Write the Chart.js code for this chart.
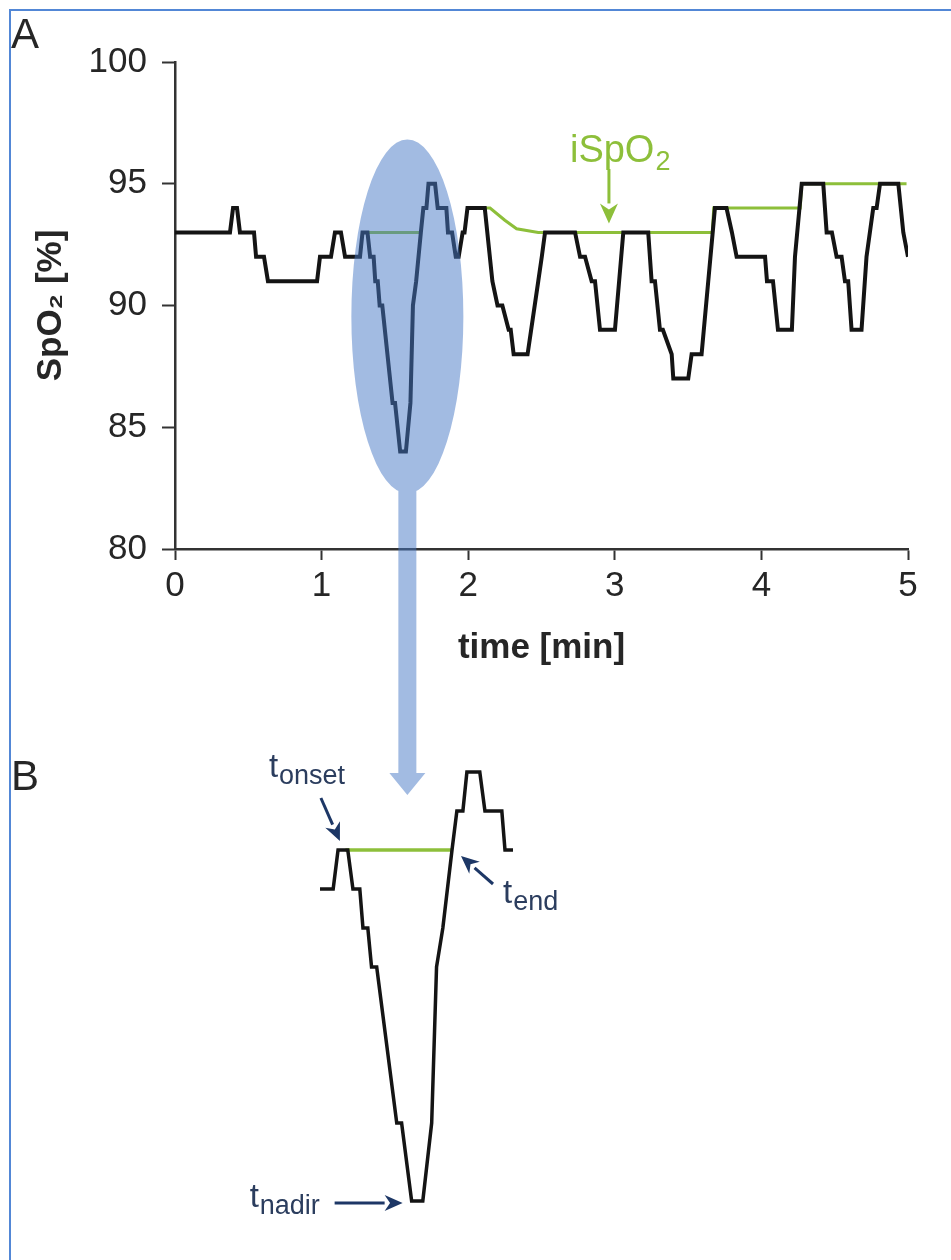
<!DOCTYPE html>
<html>
<head>
<meta charset="utf-8">
<script src="https://cdn.jsdelivr.net/npm/chart.js@4.4.1/dist/chart.umd.min.js"></script>
<style>
    html, body { margin: 0; padding: 0; background: #fff; }
    #wrap { position: relative; width: 951px; height: 1260px; }
    #wrap canvas { position: absolute; left: 0; top: 0; }
</style>
</head>
<body>
<div id="wrap">
    <canvas id="chartA" width="951" height="1260"></canvas>
    <canvas id="chartB" width="951" height="1260"></canvas>
</div>
<script>
// ------------------------------------------------------------------------
// Data
// ------------------------------------------------------------------------

// SpO2 trace, time in minutes
const timeMin = [
    0.000, 0.375, 0.396, 0.423, 0.443, 0.539, 0.553, 0.607, 0.634, 0.969,
    0.989, 1.064, 1.091, 1.132, 1.160, 1.262, 1.279, 1.313, 1.331, 1.355,
    1.366, 1.383, 1.396, 1.414, 1.484, 1.501, 1.536, 1.575, 1.606, 1.623,
    1.645, 1.677, 1.694, 1.715, 1.729, 1.774, 1.792, 1.851, 1.862, 1.890,
    1.915, 1.935, 1.962, 1.975, 1.995, 2.113, 2.165, 2.200, 2.233, 2.276,
    2.290, 2.310, 2.405, 2.478, 2.502, 2.524, 2.729, 2.763, 2.797, 2.842,
    2.865, 2.899, 3.001, 3.058, 3.228, 3.251, 3.274, 3.308, 3.328, 3.388,
    3.399, 3.501, 3.524, 3.592, 3.683, 3.762, 3.799, 3.831, 4.025, 4.038,
    4.079, 4.113, 4.208, 4.229, 4.275, 4.422, 4.445, 4.481, 4.513, 4.547,
    4.570, 4.592, 4.615, 4.683, 4.717, 4.763, 4.786, 4.809, 4.934, 4.968,
    5.000
];
const spo2 = [
    93, 93, 94, 94, 93, 93, 92, 92, 91, 91,
    92, 92, 93, 93, 92, 92, 93, 93, 92, 92,
    91, 91, 90, 90, 86, 86, 84, 84, 86, 90,
    91, 93, 94, 94, 95, 95, 94, 94, 93, 93,
    92, 92, 93, 93, 94, 94, 91, 90, 90, 89,
    89, 88, 88, 91, 92, 93, 93, 92, 92, 91,
    91, 89, 89, 93, 93, 91, 91, 89, 89, 88,
    87, 87, 88, 88, 94, 94, 93, 92, 92, 91,
    91, 89, 89, 92, 95, 95, 93, 93, 92, 92,
    91, 91, 89, 89, 92, 94, 94, 95, 95, 93,
    92
];

// iSpO2 baseline (green), null = gap
const baseTime = [1.305, 1.677, 1.850, 2.050, 2.149, 2.250, 2.330, 2.478, 3.665, 3.675, 4.265, 4.275, 4.990];
const baseSpO2 = [93, 93, null, 94, 94, 93.5, 93.15, 93, 93, 94, 94, 95, 95];

const xTicks = [0, 1, 2, 3, 4, 5];
const yTicks = [80, 85, 90, 95, 100];

// events marked in panel B
const tOnset = 1.296;
const tNadir = 1.536;
const tEnd = 1.677;

// ------------------------------------------------------------------------

const FONT = '"Liberation Sans", Arial, Helvetica, sans-serif';
const INK = '#262626';
const GREEN = '#8dbf3a';
const NAVY = '#1d3766';

const spoPoints = timeMin.map((t, i) => ({ x: t, y: spo2[i] }));
const basePoints = baseTime.map((t, i) => ({ x: t, y: baseSpO2[i] }));

function arrow(c, x1, y1, x2, y2, head, width) {
    const a = Math.atan2(y2 - y1, x2 - x1);
    const bx = x2 - Math.cos(a) * head, by = y2 - Math.sin(a) * head;
    c.beginPath();
    c.moveTo(x1, y1);
    c.lineTo(bx, by);
    c.stroke();
    c.beginPath();
    c.moveTo(x2, y2);
    c.lineTo(bx + Math.sin(a) * width, by - Math.cos(a) * width);
    c.lineTo(bx + Math.cos(a) * head * 0.3, by + Math.sin(a) * head * 0.3);
    c.lineTo(bx - Math.sin(a) * width, by + Math.cos(a) * width);
    c.closePath();
    c.fill();
}

function subLabel(c, x, y, main, sub, color) {
    c.fillStyle = color;
    c.font = '33px ' + FONT;
    c.fillText(main, x, y);
    const w = c.measureText(main).width;
    c.font = '27px ' + FONT;
    c.fillText(sub, x + w + 1, y + 7);
}

// ------------------------------------------------------------------------
// Panel A decorations: frame, letters, ellipse + arrow, iSpO2 label
// ------------------------------------------------------------------------
const panelA = {
    id: 'panelA',
    beforeDraw(chart) {
        const c = chart.ctx;
        c.save();
        c.strokeStyle = '#5287d6';
        c.lineWidth = 2;
        c.beginPath();
        c.moveTo(10, 1260);
        c.lineTo(10, 10);
        c.lineTo(951, 10);
        c.stroke();
        c.restore();
    },
    afterDraw(chart) {
        const c = chart.ctx;
        const xs = chart.scales.x, ys = chart.scales.y;
        c.save();

        // highlight of the desaturation + arrow down to panel B
        const cx = xs.getPixelForValue(1.585), cy = ys.getPixelForValue(89.55);
        const rx = 56, ry = 177;
        c.fillStyle = 'rgba(70,120,198,0.5)';
        c.beginPath();
        c.ellipse(cx, cy, rx, ry, 0, 0, Math.PI * 2);
        c.rect(cx - 9, cy, 18, 773 - cy);
        c.moveTo(cx - 18, 773);
        c.lineTo(cx + 18, 773);
        c.lineTo(cx, 795);
        c.closePath();
        c.fill();

        // letters
        c.fillStyle = INK;
        c.font = '42px ' + FONT;
        c.textBaseline = 'alphabetic';
        c.fillText('A', 11, 48);
        c.fillText('B', 11, 790);

        // iSpO2 label and arrow
        const ax = xs.getPixelForValue(2.96), ay = ys.getPixelForValue(93);
        c.fillStyle = GREEN;
        c.font = '38px ' + FONT;
        c.fillText('iSpO', ax - 39, 162);
        const w = c.measureText('iSpO').width;
        c.font = '27px ' + FONT;
        c.fillText('2', ax - 39 + w + 1, 170);
        c.strokeStyle = GREEN;
        c.lineWidth = 3;
        arrow(c, ax, 169, ax, ay - 9, 20, 9);

        c.restore();
    }
};

new Chart(document.getElementById('chartA'), {
    type: 'line',
    data: {
        datasets: [
            {
                label: 'SpO2',
                data: spoPoints,
                borderColor: '#141414',
                borderWidth: 4,
                pointRadius: 0,
                tension: 0,
                order: 0
            },
            {
                label: 'iSpO2',
                data: basePoints,
                borderColor: GREEN,
                borderWidth: 3,
                pointRadius: 0,
                tension: 0,
                spanGaps: false,
                order: 1
            }
        ]
    },
    options: {
        responsive: false,
        animation: false,
        devicePixelRatio: 1,
        layout: { padding: { left: 0, top: 62, right: 43, bottom: 581 } },
        plugins: { legend: { display: false }, tooltip: { enabled: false } },
        scales: {
            x: {
                type: 'linear',
                min: 0,
                max: 5,
                afterBuildTicks(s) { s.ticks = xTicks.map(v => ({ value: v })); },
                afterFit(s) { s.height = 130; },
                grid: { drawOnChartArea: false, drawTicks: true, tickLength: 11, tickColor: '#333', tickWidth: 2 },
                border: { display: true, color: '#333', width: 2.5 },
                ticks: { color: INK, font: { family: FONT, size: 35 }, padding: 5, maxRotation: 0 },
                title: {
                    display: true,
                    text: 'time [min]',
                    color: INK,
                    font: { family: FONT, size: 35, weight: 'bold' },
                    padding: { top: 0, bottom: 10 }
                }
            },
            y: {
                min: 80,
                max: 100,
                afterBuildTicks(s) { s.ticks = yTicks.map(v => ({ value: v })); },
                afterFit(s) { s.width = 175; },
                grid: { drawOnChartArea: false, drawTicks: true, tickLength: 13, tickColor: '#333', tickWidth: 2 },
                border: { display: true, color: '#333', width: 2.5 },
                ticks: { color: INK, font: { family: FONT, size: 35 }, padding: 15 },
                title: {
                    display: true,
                    text: 'SpO\u2082 [%]',
                    color: INK,
                    font: { family: FONT, size: 35, weight: 'bold' },
                    padding: { top: 30, bottom: 0 }
                }
            }
        }
    },
    plugins: [panelA]
});

// ------------------------------------------------------------------------
// Panel B: zoom into the marked desaturation
// ------------------------------------------------------------------------
const panelB = {
    id: 'panelB',
    afterDraw(chart) {
        const c = chart.ctx;
        const xs = chart.scales.x, ys = chart.scales.y;
        c.save();
        c.strokeStyle = NAVY;
        c.fillStyle = NAVY;
        c.lineWidth = 3;
        c.textBaseline = 'alphabetic';

        // onset
        const ox = xs.getPixelForValue(tOnset), oy = ys.getPixelForValue(93);
        arrow(c, ox - 22, oy - 52, ox - 3, oy - 9, 18, 8);
        subLabel(c, ox - 74, oy - 73, 't', 'onset', '#2b3d5e');

        // end
        const ex = xs.getPixelForValue(tEnd), ey = ys.getPixelForValue(93);
        c.strokeStyle = NAVY;
        c.fillStyle = NAVY;
        arrow(c, ex + 41, ey + 34, ex + 9, ey + 6, 18, 8);
        subLabel(c, ex + 51, ey + 53, 't', 'end', '#2b3d5e');

        // nadir
        const nx = xs.getPixelForValue(tNadir), ny = ys.getPixelForValue(84);
        c.strokeStyle = NAVY;
        c.fillStyle = NAVY;
        arrow(c, nx - 77, ny + 2, nx - 9, ny + 2, 18, 8);
        subLabel(c, nx - 162, ny + 6, 't', 'nadir', '#2b3d5e');

        c.restore();
    }
};

new Chart(document.getElementById('chartB'), {
    type: 'line',
    data: {
        datasets: [
            {
                label: 'SpO2',
                data: spoPoints,
                borderColor: '#141414',
                borderWidth: 3.5,
                pointRadius: 0,
                tension: 0,
                clip: { left: 0, right: 0, top: 10, bottom: 10 },
                order: 0
            },
            {
                label: 'iSpO2',
                data: basePoints,
                borderColor: GREEN,
                borderWidth: 3.5,
                pointRadius: 0,
                tension: 0,
                spanGaps: false,
                clip: { left: 0, right: 0, top: 10, bottom: 10 },
                order: 1
            }
        ]
    },
    options: {
        responsive: false,
        animation: false,
        devicePixelRatio: 1,
        layout: { padding: { left: 320, top: 772, right: 438, bottom: 59 } },
        plugins: { legend: { display: false }, tooltip: { enabled: false } },
        scales: {
            x: { type: 'linear', min: 1.216, max: 1.89, display: false },
            y: { min: 84, max: 95, display: false }
        }
    },
    plugins: [panelB]
});
</script>
</body>
</html>
